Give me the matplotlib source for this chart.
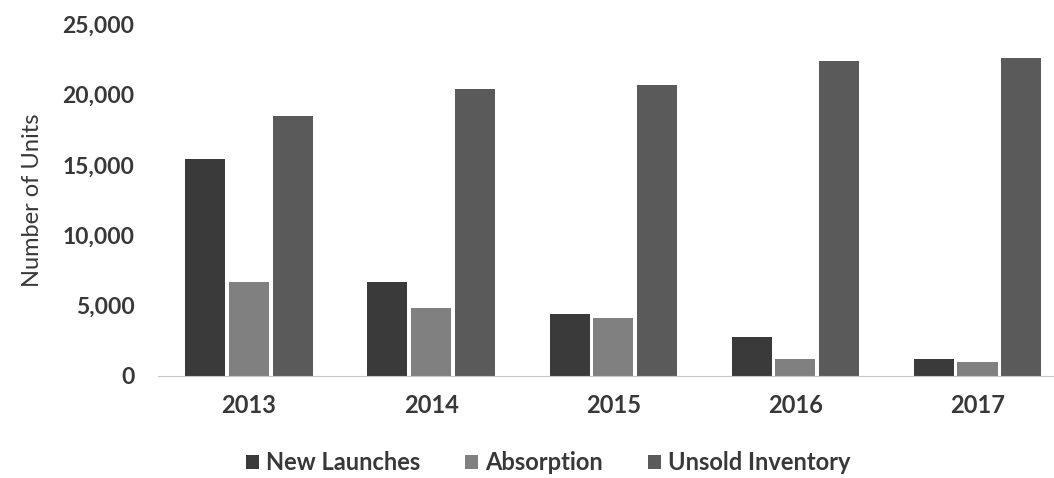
import numpy as np
import matplotlib.pyplot as plt

years = ["2013", "2014", "2015", "2016", "2017"]
new_launches = [15400, 6700, 4400, 2800, 1200]
absorption = [6700, 4800, 4100, 1200, 1000]
unsold = [18500, 20400, 20700, 22400, 22600]

plt.rcParams['font.family'] = ['Lato', 'DejaVu Sans']
txt = "#383838"

fig = plt.figure(figsize=(10.54, 4.78), dpi=100)
ax = fig.add_axes([158/1054, 102/478, (1054-158)/1054, (376-24)/478])

x = np.arange(len(years))
w = 0.22
step = 0.24
ax.bar(x - step, new_launches, w, color="#3a3a3a", label="New Launches")
ax.bar(x, absorption, w, color="#808080", label="Absorption")
ax.bar(x + step, unsold, w, color="#5a5a5a", label="Unsold Inventory")

ax.set_xlim(-0.5, 4.42)
ax.set_ylim(0, 25000)
ax.set_yticks(range(0, 25001, 5000))
ax.set_yticklabels([f"{v:,}" for v in range(0, 25001, 5000)], fontsize=16.5,
                   fontweight="bold", color=txt)
ax.set_xticks(x)
ax.set_xticklabels(years, fontsize=17, fontweight="bold", color=txt)
ax.tick_params(axis="both", length=0)
ax.tick_params(axis="y", pad=17)
ax.tick_params(axis="x", pad=13)
for s in ["top", "right", "left"]:
    ax.spines[s].set_visible(False)
ax.spines["bottom"].set_color("#c8c8c8")
ax.set_ylabel("Number of Units", fontsize=17, color=txt, labelpad=14)

fig.legend(loc="center", bbox_to_anchor=(548/1054, 1 - 463/478), ncol=3, frameon=False,
           handlelength=0.55, handleheight=0.55, handletextpad=0.3,
           columnspacing=1.9, labelcolor=txt, prop={"weight": "bold", "size": 17})

fig.savefig("out.png", dpi=100)
